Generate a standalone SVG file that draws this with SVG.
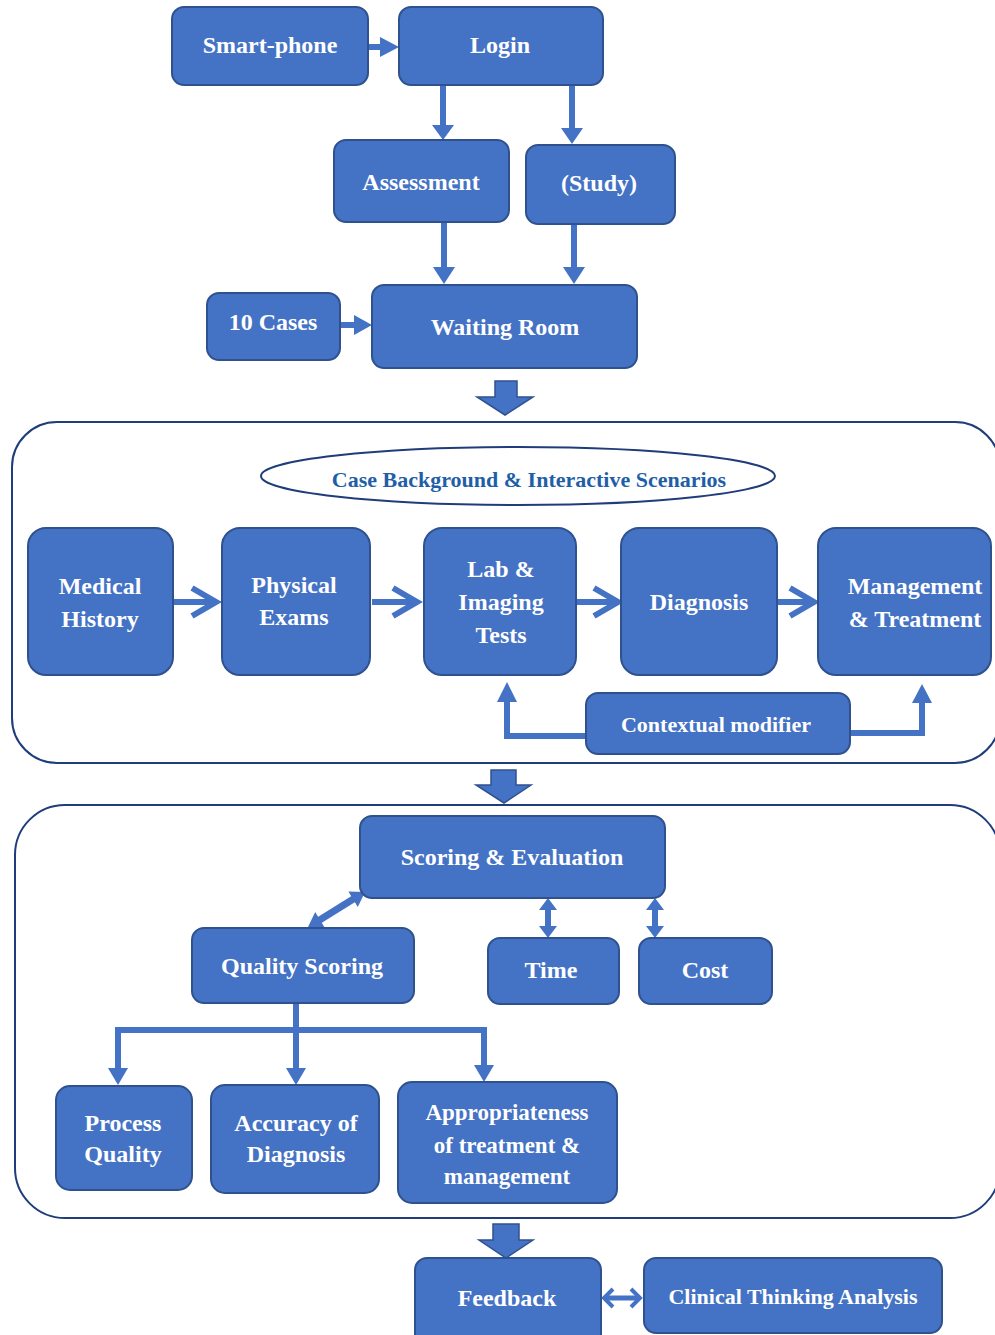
<svg xmlns="http://www.w3.org/2000/svg" width="995" height="1335" viewBox="0 0 995 1335">
<style>
.box{fill:#4472c4;stroke:#2f528f;stroke-width:2}
.frame{fill:none;stroke:#1f3d7a;stroke-width:2}
.t{font-family:"Liberation Serif","Times New Roman",serif;font-weight:bold;font-size:24px;fill:#ffffff;text-anchor:middle}
.s22{font-size:22px}
.ln{fill:none;stroke:#4472c4;stroke-width:6}
.chev{fill:none;stroke:#4472c4;stroke-width:6;stroke-linejoin:miter}
.head{fill:#4472c4}
.blk{fill:#4472c4;stroke:#2f528f;stroke-width:1.5}
</style>
<rect width="995" height="1335" fill="#ffffff"/>

<g id="containers">
<rect id="stage-panel" class="frame" x="12" y="422" width="988" height="341" rx="45"/>
<rect id="scoring-panel" class="frame" x="15" y="805" width="985" height="413" rx="50"/>
</g>

<g id="connectors">
<!-- smart-phone -> login -->
<line class="ln" x1="368" y1="47" x2="382" y2="47"/>
<polygon class="head" points="380,37 399,47 380,57"/>
<!-- login -> assessment -->
<line class="ln" x1="443" y1="85" x2="443" y2="126"/>
<polygon class="head" points="432,125 454,125 443,140"/>
<!-- login -> study -->
<line class="ln" x1="572" y1="85" x2="572" y2="129"/>
<polygon class="head" points="561,128 583,128 572,144"/>
<!-- assessment -> waiting -->
<line class="ln" x1="444" y1="223" x2="444" y2="268"/>
<polygon class="head" points="433,267 455,267 444,284"/>
<!-- study -> waiting -->
<line class="ln" x1="574" y1="225" x2="574" y2="268"/>
<polygon class="head" points="563,267 585,267 574,284"/>
<!-- 10 cases -> waiting -->
<line class="ln" x1="340" y1="325" x2="356" y2="325"/>
<polygon class="head" points="354,315 372,325 354,335"/>
<!-- block arrow 1 -->
<polygon class="blk" points="495,381 517,381 517,397 533,397 505,415 477,397 495,397"/>

<!-- stage chevron arrows -->
<line class="ln" x1="173" y1="602" x2="214" y2="602"/>
<polyline class="chev" points="192,588 216,602 192,616"/>
<line class="ln" x1="372" y1="602" x2="414" y2="602"/>
<polyline class="chev" points="393,588 417,602 393,616"/>
<line class="ln" x1="576" y1="602" x2="614" y2="602"/>
<polyline class="chev" points="594,588 618,602 594,616"/>
<line class="ln" x1="777" y1="602" x2="812" y2="602"/>
<polyline class="chev" points="790,588 814,602 790,616"/>

<!-- contextual modifier -> lab / management -->
<polyline class="ln" points="586,736 507,736 507,700"/>
<polygon class="head" points="497,702 517,702 507,682"/>
<polyline class="ln" points="850,733 922,733 922,700"/>
<polygon class="head" points="912,703 932,703 922,684"/>

<!-- block arrow 2 -->
<polygon class="blk" points="491,770 516,770 516,785 531,785 504,803 476,785 491,785"/>

<!-- quality <-> scoring -->
<line class="ln" x1="318" y1="921" x2="355" y2="898" style="stroke-width:7"/>
<polygon class="head" points="308,927 324.6,927.4 315.2,912"/>
<polygon class="head" points="365,892 357.8,907 348.4,891.6"/>
<!-- time <-> scoring -->
<line class="ln" x1="548" y1="906" x2="548" y2="930"/>
<polygon class="head" points="548,898 539,910 557,910"/>
<polygon class="head" points="548,938 539,926 557,926"/>
<!-- cost <-> scoring -->
<line class="ln" x1="655" y1="906" x2="655" y2="930"/>
<polygon class="head" points="655,898 646,910 664,910"/>
<polygon class="head" points="655,938 646,926 664,926"/>

<!-- quality tree -->
<line class="ln" x1="296" y1="1003" x2="296" y2="1070"/>
<polyline class="ln" points="118,1070 118,1030 484,1030 484,1066"/>
<polygon class="head" points="108,1068 128,1068 118,1085"/>
<polygon class="head" points="286,1068 306,1068 296,1085"/>
<polygon class="head" points="474,1065 494,1065 484,1082"/>

<!-- block arrow 3 -->
<polygon class="blk" points="493,1224 519,1224 519,1240 533,1240 506,1258 479,1240 493,1240"/>

<!-- feedback <-> clinical -->
<line class="ln" x1="604" y1="1298" x2="640" y2="1298" style="stroke-width:5"/>
<polyline class="chev" points="613,1289 604,1298 613,1307" style="stroke-width:4"/>
<polyline class="chev" points="631,1289 640,1298 631,1307" style="stroke-width:4"/>
</g>

<g id="smartphone"><rect class="box" x="172" y="7" width="196" height="78" rx="12"/><text class="t" x="270" y="53">Smart-phone</text></g>
<g id="login"><rect class="box" x="399" y="7" width="204" height="78" rx="12"/><text class="t" x="500" y="53">Login</text></g>
<g id="assessment"><rect class="box" x="334" y="140" width="175" height="82" rx="12"/><text class="t" x="421" y="190">Assessment</text></g>
<g id="study"><rect class="box" x="526" y="145" width="149" height="79" rx="12"/><text class="t" x="599" y="191">(Study)</text></g>
<g id="cases"><rect class="box" x="207" y="293" width="133" height="67" rx="12"/><text class="t" x="273" y="330">10 Cases</text></g>
<g id="waiting"><rect class="box" x="372" y="285" width="265" height="83" rx="12"/><text class="t" x="505" y="335">Waiting Room</text></g>

<g id="case-background">
<ellipse cx="518" cy="476" rx="257" ry="29" fill="#ffffff" stroke="#1f3d7a" stroke-width="2"/>
<text class="t" x="529" y="487" style="font-size:22px;fill:#1f5fa8">Case Background &amp; Interactive Scenarios</text>
</g>

<g id="medical-history"><rect class="box" x="28" y="528" width="145" height="147" rx="18"/><text class="t" x="100" y="594">Medical</text><text class="t" x="100" y="627">History</text></g>
<g id="physical-exams"><rect class="box" x="222" y="528" width="148" height="147" rx="18"/><text class="t" x="294" y="593">Physical</text><text class="t" x="294" y="625">Exams</text></g>
<g id="lab-imaging"><rect class="box" x="424" y="528" width="152" height="147" rx="18"/><text class="t" x="501" y="577">Lab &amp;</text><text class="t" x="501" y="610">Imaging</text><text class="t" x="501" y="643">Tests</text></g>
<g id="diagnosis"><rect class="box" x="621" y="528" width="156" height="147" rx="18"/><text class="t" x="699" y="610">Diagnosis</text></g>
<g id="management"><rect class="box" x="818" y="528" width="173" height="147" rx="18"/><text class="t" x="915" y="594">Management</text><text class="t" x="915" y="627">&amp; Treatment</text></g>
<g id="contextual-modifier"><rect class="box" x="586" y="693" width="264" height="61" rx="12"/><text class="t s22" x="716" y="732">Contextual modifier</text></g>

<g id="scoring-evaluation"><rect class="box" x="360" y="816" width="305" height="82" rx="12"/><text class="t" x="512" y="865">Scoring &amp; Evaluation</text></g>
<g id="quality-scoring"><rect class="box" x="192" y="928" width="222" height="75" rx="12"/><text class="t" x="302" y="974">Quality Scoring</text></g>
<g id="time"><rect class="box" x="488" y="938" width="131" height="66" rx="12"/><text class="t" x="551" y="978">Time</text></g>
<g id="cost"><rect class="box" x="639" y="938" width="133" height="66" rx="12"/><text class="t" x="705" y="978">Cost</text></g>
<g id="process-quality"><rect class="box" x="56" y="1086" width="136" height="104" rx="14"/><text class="t" x="123" y="1131">Process</text><text class="t" x="123" y="1162">Quality</text></g>
<g id="accuracy"><rect class="box" x="211" y="1085" width="168" height="108" rx="14"/><text class="t" x="296" y="1131">Accuracy of</text><text class="t" x="296" y="1162">Diagnosis</text></g>
<g id="appropriateness"><rect class="box" x="398" y="1082" width="219" height="121" rx="14"/><text class="t" x="507" y="1120" style="font-size:23px">Appropriateness</text><text class="t" x="507" y="1153" style="font-size:23px">of treatment &amp;</text><text class="t" x="507" y="1184" style="font-size:23px">management</text></g>

<g id="feedback"><rect class="box" x="415" y="1258" width="186" height="90" rx="12"/><text class="t" x="507" y="1306">Feedback</text></g>
<g id="clinical-thinking"><rect class="box" x="644" y="1258" width="298" height="75" rx="12"/><text class="t s22" x="793" y="1304">Clinical Thinking Analysis</text></g>
</svg>
